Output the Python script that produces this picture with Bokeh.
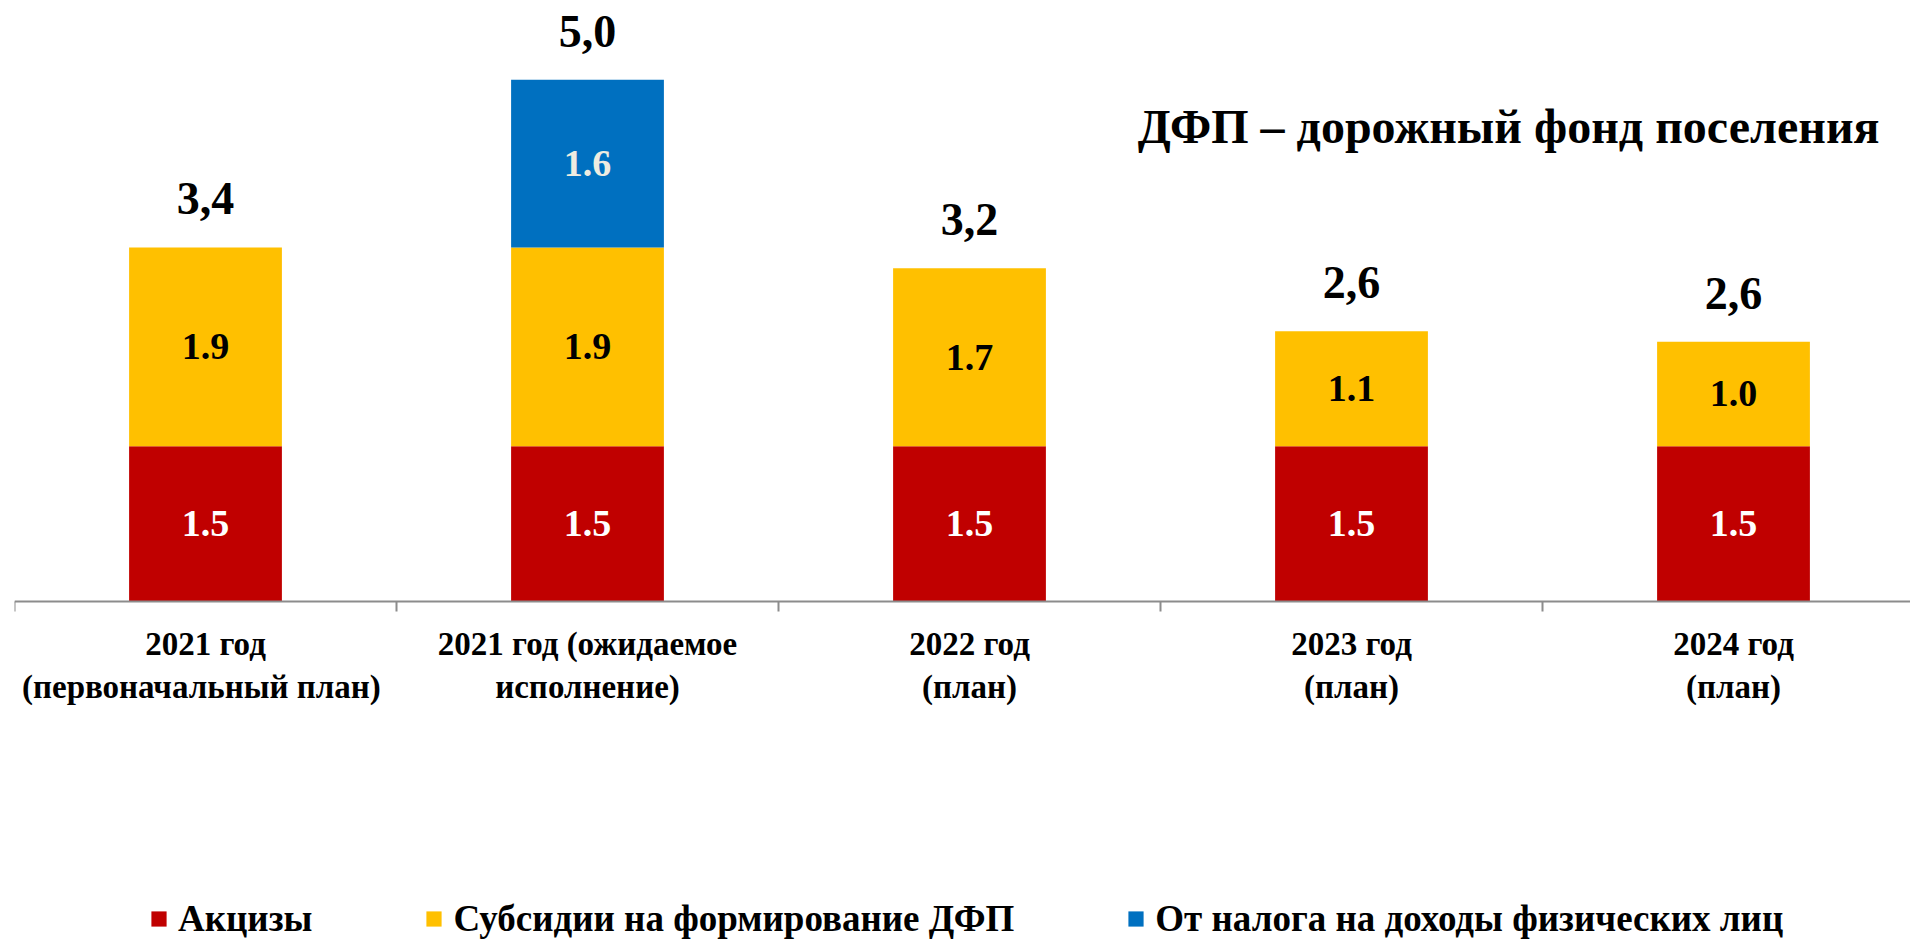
from bokeh.plotting import figure
from bokeh.models import (Range1d, LinearAxis, FixedTicker, Legend, LegendItem,
                          ColumnDataSource, Label)
from bokeh.embed import file_html
from bokeh.resources import INLINE
from bokeh.core.properties import value

# ---------------- data ----------------
categories = [
    "2021 год\n(первоначальный  план)",
    "2021 год (ожидаемое\nисполнение)",
    "2022 год\n(план)",
    "2023 год\n(план)",
    "2024 год\n(план)",
]
akcizy = [1.5, 1.5, 1.5, 1.5, 1.5]
subsidii = [1.92, 1.92, 1.72, 1.11, 1.01]
ndfl = [0.0, 1.62, 0.0, 0.0, 0.0]
total_labels = ["3,4", "5,0", "3,2", "2,6", "2,6"]
series_names = ["Акцизы", "Субсидии на формирование ДФП",
                "От налога на доходы физических лиц"]
series_colors = ["#C00000", "#FFC000", "#0070C0"]
label_colors = ["#FFFFFF", "#000000", "#EEECE1"]
title_text = "ДФП – дорожный фонд поселения"

# ---------------- layout constants ----------------
FONT = "Liberation Serif"
W, H = 1910, 940
LEFT = 14
PX_PER_UNIT = 103.5
CAT_PX = 382.0
BASE_Y = 601  # px from figure top to the zero line

x = list(range(len(categories)))

p = figure(width=W, height=H, output_backend="svg", toolbar_location=None,
           x_range=Range1d(-0.5, -0.5 + (W - LEFT) / CAT_PX),
           y_range=Range1d(-(H - BASE_Y) / PX_PER_UNIT, BASE_Y / PX_PER_UNIT),
           x_axis_location=None, y_axis_location=None,
           min_border_left=LEFT, min_border_right=0,
           min_border_top=0, min_border_bottom=0)
p.outline_line_color = None
p.xgrid.visible = False
p.ygrid.visible = False
p.background_fill_color = "white"

src = ColumnDataSource(dict(x=x, a=akcizy, s=subsidii, n=ndfl))
renderers = p.vbar_stack(["a", "s", "n"], x="x", width=0.4, source=src,
                         fill_color=series_colors, line_color=None)

# segment labels
lx, ly, lt, lc = [], [], [], []
for i in x:
    bottom = 0.0
    for vals, col in zip([akcizy, subsidii, ndfl], label_colors):
        v = vals[i]
        if v > 0:
            lx.append(i)
            ly.append(bottom + v / 2)
            lt.append(f"{v:.1f}")
            lc.append(col)
        bottom += v
lsrc = ColumnDataSource(dict(x=lx, y=ly, t=lt, c=lc))
p.text(x="x", y="y", text="t", text_color="c", source=lsrc,
       text_align="center", text_baseline="middle",
       text_font=value(FONT), text_font_style="bold", text_font_size="38px")

# total labels
tops = [a + s + n for a, s, n in zip(akcizy, subsidii, ndfl)]
tsrc = ColumnDataSource(dict(x=x, y=[t + 0.47 for t in tops], t=total_labels))
p.text(x="x", y="y", text="t", source=tsrc, text_color="black",
       text_align="center", text_baseline="middle",
       text_font=value(FONT), text_font_style="bold", text_font_size="46px")

# axis with boundary ticks
boundaries = [i - 0.5 for i in range(len(categories) + 1)]
ax1 = LinearAxis(fixed_location=0, ticker=FixedTicker(ticks=boundaries),
                 major_tick_out=10, major_tick_in=0,
                 minor_tick_out=0, minor_tick_in=0,
                 axis_line_color="#8c8c8c", axis_line_width=2,
                 major_tick_line_color="#8c8c8c", major_tick_line_width=2,
                 major_label_text_alpha=0, major_label_text_font_size="1px")
p.add_layout(ax1, "below")

# axis with category labels
ax2 = LinearAxis(fixed_location=0, ticker=FixedTicker(ticks=x),
                 major_label_overrides={i: c for i, c in enumerate(categories)},
                 major_tick_out=0, major_tick_in=0,
                 minor_tick_out=0, minor_tick_in=0,
                 axis_line_color=None, major_tick_line_color=None,
                 major_label_standoff=24,
                 major_label_text_font=FONT, major_label_text_font_style="bold",
                 major_label_text_font_size="33px",
                 major_label_text_color="black",
                 major_label_text_line_height=1.22)
p.add_layout(ax2, "below")

# title
p.add_layout(Label(x=-0.5 + (1879 - LEFT) / CAT_PX, y=(BASE_Y - 126) / PX_PER_UNIT,
                   text=title_text, text_align="right", text_baseline="middle",
                   text_font=FONT, text_font_style="bold",
                   text_font_size="48px", text_color="black"))

# legend
items = [LegendItem(label=n, renderers=[r]) for n, r in zip(series_names, renderers)]
legend = Legend(items=items, orientation="horizontal", location=(135, 0),
                glyph_width=19, glyph_height=19, label_standoff=10,
                spacing=112, padding=0, margin=0,
                border_line_color=None, background_fill_alpha=0,
                label_text_font=FONT, label_text_font_style="bold",
                label_text_font_size="37px", label_text_color="black")
p.add_layout(legend)

open("out.html", "w").write(file_html(p, INLINE))
